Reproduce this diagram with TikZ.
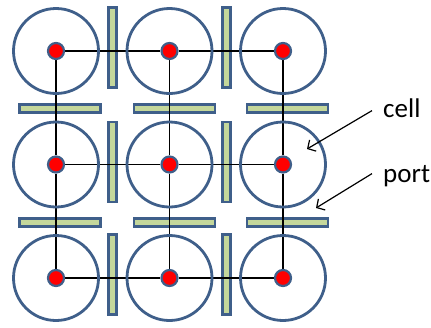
\documentclass[tikz,border=0pt]{standalone}
\usepackage{fontspec}
\setmainfont{Carlito}
\usepackage{tikz}
\usetikzlibrary{arrows.meta,positioning,backgrounds}

\definecolor{rim}{HTML}{3F5F8A}
\definecolor{portgreen}{HTML}{C4D79B}

\begin{document}
\begin{tikzpicture}[x=1pt, y=-1pt,
    cell/.style={circle, draw=rim, line width=2.8pt, minimum size=85pt, inner sep=0pt},
    dot/.style={circle, draw=rim, fill=red, line width=2.2pt, minimum size=16pt, inner sep=0pt},
    vport/.style={draw=rim, fill=portgreen, line width=2.2pt, minimum width=8pt, minimum height=80pt, inner sep=0pt},
    hport/.style={draw=rim, fill=portgreen, line width=2.2pt, minimum width=81pt, minimum height=8pt, inner sep=0pt},
    link/.style={black, line width=1.5pt},
    lbl/.style={anchor=base west, inner sep=0pt, font=\fontsize{27}{30}\selectfont},
    arr/.style={-{Straight Barb[length=6pt, width=13pt]}, line width=1.2pt}
]
\useasboundingbox (0,0) rectangle (431,327);

% cells
\node[cell] (c11) at (56,51) {};
\node[cell] (c12) at (169.5,51) {};
\node[cell] (c13) at (283,51) {};
\node[cell] (c21) at (56,164.5) {};
\node[cell] (c22) at (169.5,164.5) {};
\node[cell] (c23) at (283,164.5) {};
\node[cell] (c31) at (56,278) {};
\node[cell] (c32) at (169.5,278) {};
\node[cell] (c33) at (283,278) {};

\node[dot] (d11) at (c11) {};
\node[dot] (d12) at (c12) {};
\node[dot] (d13) at (c13) {};
\node[dot] (d21) at (c21) {};
\node[dot] (d22) at (c22) {};
\node[dot] (d23) at (c23) {};
\node[dot] (d31) at (c31) {};
\node[dot] (d32) at (c32) {};
\node[dot] (d33) at (c33) {};

\begin{scope}[on background layer]
% ports between cells
\node[vport] (v11) at (112.5,47.5) {};
\node[vport] (v12) at (226.5,47.5) {};
\node[vport] (v21) at (112.5,162) {};
\node[vport] (v22) at (226.5,162) {};
\node[vport] (v31) at (112.5,274.5) {};
\node[vport] (v32) at (226.5,274.5) {};
\node[hport] (h11) at (60,108.5) {};
\node[hport] (h12) at (174.5,108.5) {};
\node[hport] (h13) at (287.5,108.5) {};
\node[hport] (h21) at (60,222.5) {};
\node[hport] (h22) at (174.5,222.5) {};
\node[hport] (h23) at (287.5,222.5) {};

\draw[link] (d11) -- (d12) -- (d13);
\draw[link] (d21) -- (d22) -- (d23);
\draw[link] (d31) -- (d32) -- (d33);
\draw[link] (d11) -- (d21) -- (d31);
\draw[link] (d12) -- (d22) -- (d32);
\draw[link] (d13) -- (d23) -- (d33);
\end{scope}

% labels
\node[lbl] (celltxt) at (383,117) {cell};
\node[lbl] (porttxt) at (383,182) {port};
\coordinate (cellpt) at (307,149);
\coordinate (portpt) at (316,208);
\draw[arr] ([xshift=-11pt,yshift=4pt]celltxt.mid west) -- (cellpt);
\draw[arr] ([xshift=-11pt,yshift=6pt]porttxt.mid west) -- (portpt);
\end{tikzpicture}
\end{document}
